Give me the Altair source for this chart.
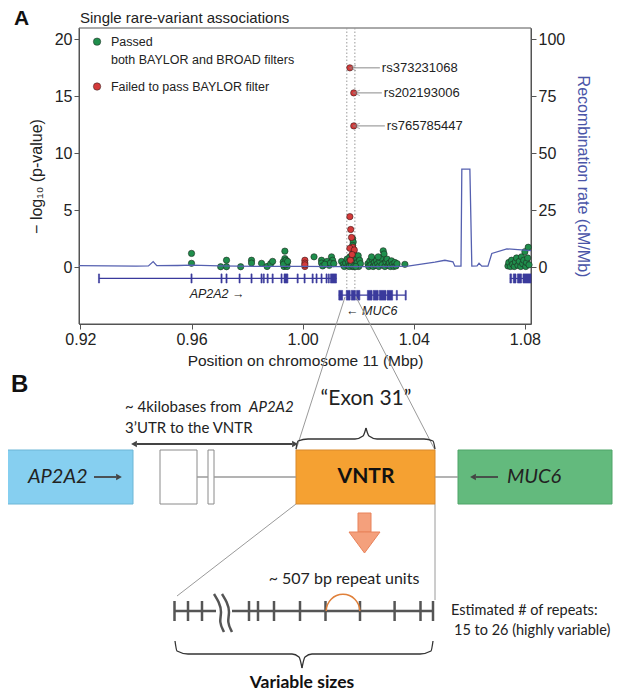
import altair as alt
import pandas as pd

# ---------------- Panel A data ----------------
x_ticks = [0.92, 0.96, 1.00, 1.04, 1.08]
y_ticks = [0, 5, 10, 15, 20]
rec_ticks = [0, 25, 50, 75, 100]

green_pos = [0.9600, 0.9600, 0.9705, 0.9726, 0.9726, 0.9777, 0.9816, 0.9816, 0.9852, 0.9872, 0.9885, 0.9892,
             0.9936, 0.9936, 0.9930, 0.9944, 0.9933, 0.9944, 0.9938, 0.9940, 0.9931, 0.9946,
             1.0041, 1.0068, 1.0068, 1.0072, 1.0088, 1.0104, 1.0108, 1.0096, 1.0080, 1.0100, 1.0112,
             1.0140, 1.0146, 1.0150, 1.0155, 1.0160, 1.0163, 1.0166, 1.0170, 1.0172, 1.0175, 1.0178, 1.0180,
             1.0182, 1.0180, 1.0183, 1.0179, 1.0185, 1.0186, 1.0188, 1.0190, 1.0192, 1.0195, 1.0197, 1.0200,
             1.0202, 1.0205, 1.0208, 1.0168, 1.0176, 1.0184, 1.0191,
             1.0235, 1.0238, 1.0242, 1.0246, 1.0250, 1.0254, 1.0258, 1.0262, 1.0266, 1.0270, 1.0274, 1.0278,
             1.0282, 1.0286, 1.0290, 1.0293, 1.0296, 1.0300, 1.0304, 1.0308, 1.0312, 1.0316, 1.0320, 1.0324,
             1.0328, 1.0332, 1.0336, 1.0340, 1.0248, 1.0272,
             1.0368,
             1.0739, 1.0742, 1.0748, 1.0752, 1.0756, 1.0762, 1.0766, 1.0770, 1.0775, 1.0780, 1.0785, 1.0788,
             1.0792, 1.0796, 1.0800, 1.0803, 1.0806, 1.0810, 1.0812, 1.0815]
green_p = [1.2, 0.33, 0.03, 0.6, 0.03, 0.03, 0.6, 0.35, 0.33, 0.05, 0.3, 0.5,
           1.4, 0.75, 0.45, 0.35, 0.05, 0.05, 0.2, 0.6, 0.25, 0.5,
           0.9, 0.6, 0.35, 0.1, 0.5, 0.9, 0.6, 0.15, 0.25, 0.35, 0.3,
           0.5, 0.2, 0.05, 0.35, 0.7, 0.1, 0.45, 0.9, 0.25, 0.6, 1.05, 2.5,
           2.2, 1.9, 1.35, 0.05, 0.8, 0.3, 1.0, 0.55, 0.15, 0.75, 0.4, 1.0,
           0.05, 0.6, 0.3, 0.05, 0.15, 0.05, 0.05,
           0.3, 0.05, 0.55, 0.2, 0.7, 0.05, 0.4, 0.15, 0.6, 0.3, 0.05, 0.5,
           0.8, 0.2, 1.43, 1.15, 0.05, 0.45, 0.7, 0.15, 0.35, 0.05, 0.55, 0.25,
           0.05, 0.4, 0.1, 0.3, 0.9, 0.9,
           0.24,
           0.1, 0.4, 0.05, 0.6, 0.25, 0.05, 0.45, 0.8, 0.15, 0.5, 0.05, 0.9,
           0.3, 0.6, 1.35, 0.05, 0.4, 0.8, 1.74, 0.2]

red_pos = [1.0008, 1.0008, 1.0008, 1.0008, 1.0170, 1.0173, 1.0176, 1.0180, 1.0170, 1.0186, 1.0172, 1.0178,
           1.0170, 1.0184, 1.0184]
red_p = [0.6, 0.35, 0.05, 0.2, 4.43, 3.3, 2.6, 1.74, 1.65, 1.5, 0.6, 1.1,
         17.5, 15.3, 12.4]

snp_ids = ["rs373231068", "rs202193006", "rs765785447"]
snp_p = [17.5, 15.3, 12.4]
snp_tip = [1.0180, 1.0194, 1.0194]
snp_label = [1.0278, 1.0285, 1.0296]

rec_pos = [0.9195, 0.930, 0.940, 0.9445, 0.9462, 0.9475, 0.955, 0.960, 0.970, 0.985, 1.000, 1.015,
           1.030, 1.0379, 1.0476, 1.0512, 1.0541, 1.0548, 1.0570, 1.0573, 1.0602, 1.0609, 1.0628,
           1.0635, 1.0645, 1.0667, 1.0681, 1.0735, 1.0811, 1.0822]
rec_rate = [0.6, 0.5, 0.4, 0.5, 2.4, 0.6, 0.7, 0.9, 0.5, 0.3, 0.3, 0.2,
            0.2, 0.4, 2.2, 3.0, 2.3, 0.4, 0.4, 43.0, 43.0, 0.4, 0.5,
            1.7, 0.4, 0.4, 6.0, 8.0, 7.3, 7.2]

ap2a2_start = [0.9265, 0.9598, 0.9706, 0.9724, 0.9771, 0.9814, 0.9850, 0.9858, 0.9872, 0.9890, 0.9922,
               0.9933, 0.9980, 1.0005, 1.0034, 1.0048, 1.0066, 1.0084, 1.0092, 1.0100]
ap2a2_end = [0.9269, 0.9602, 0.9710, 0.9728, 0.9775, 0.9818, 0.9854, 0.9862, 0.9876, 0.9894, 0.9926,
             0.9947, 0.9984, 1.0009, 1.0038, 1.0052, 1.0070, 1.0088, 1.0096, 1.0122]
right_gene_start = [1.0746, 1.0758, 1.0773, 1.0793]
right_gene_end = [1.0752, 1.0768, 1.0788, 1.0822]
muc6_start = [1.0130, 1.0157, 1.0175, 1.0194, 1.0233, 1.0254, 1.0276, 1.0304, 1.0337, 1.0369]
muc6_end = [1.0144, 1.0171, 1.0190, 1.0206, 1.0250, 1.0272, 1.0300, 1.0324, 1.0341, 1.0373]
gene_lines = {"start": [0.9267, 1.0746, 1.0130], "end": [1.0122, 1.0822, 1.0371], "track": [-1.0, -1.0, -2.47]}
dotted_x = [1.0159, 1.0188]

FA = "Liberation Sans"
FB = "Lato"
W, H = 610, 683

XA = alt.Scale(domain=[0.9195, 1.0822], range=[71, 523], nice=False, zero=False)
YA = alt.Scale(domain=[-5, 21], range=[316, 20], nice=False, zero=False)
YR = alt.Scale(domain=[-25, 105], range=[316, 20], nice=False, zero=False)

AX = alt.Axis(orient="bottom", offset=-(H - 316), values=x_ticks, format=".2f",
              title="Position on chromosome 11 (Mbp)", labelFont=FA, labelFontSize=16, titleFont=FA,
              titleFontSize=15.5, titleFontWeight="normal", tickSize=5, domainColor="#555", tickColor="#555",
              labelColor="#222", titleColor="#222", grid=False, labelPadding=2, titlePadding=6)
AY = alt.Axis(orient="left", offset=-71, values=y_ticks, title="− log₁₀ (p-value)", labelFont=FA,
              labelFontSize=16, titleFont=FA, titleFontSize=16, titleFontWeight="normal", tickSize=5,
              domainColor="#555", tickColor="#555", labelColor="#222", titleColor="#222", grid=False,
              labelPadding=2, titlePadding=10)
AR = alt.Axis(orient="right", offset=-(W - 523), values=rec_ticks, title="Recombination rate (cM/Mb)",
              labelFont=FA, labelFontSize=16, titleFont=FA, titleFontSize=16, titleFontWeight="normal",
              tickSize=5, domainColor="#555", tickColor="#555", labelColor="#222", titleColor="#4A55A8",
              grid=False, labelPadding=2, titlePadding=10)


def xa(f):
    return alt.X(f, type="quantitative", scale=XA, axis=AX)


def ya(f):
    return alt.Y(f, type="quantitative", scale=YA, axis=AY)


def yda(v):
    return alt.Y(datum=v, type="quantitative", scale=YA, axis=AY)


GREEN = "#1F8E4C"
RED = "#D43A3A"
TRACK = "#3A3A9C"

frame = alt.Chart(pd.DataFrame({"a": [0.9195], "b": [1.0822]})).mark_rect(
    fillOpacity=0, stroke="#555", strokeWidth=1).encode(x=xa("a"), x2="b", y=yda(-5), y2=alt.datum(21))

dotted = alt.Chart(pd.DataFrame({"pos": dotted_x})).mark_rule(
    color="#9a9a9a", strokeDash=[1.5, 2], strokeWidth=1).encode(x=xa("pos"), y=yda(21), y2=alt.datum(-2.6))

gl = pd.DataFrame(gene_lines)
glines = alt.Chart(gl).mark_rule(color=TRACK, strokeWidth=1.2).encode(x=xa("start"), x2="end", y=ya("track"))

ap_ex = alt.Chart(pd.DataFrame({"s": ap2a2_start, "e": ap2a2_end})).mark_rect(
    color=TRACK, stroke=TRACK, strokeWidth=0.6).encode(x=xa("s"), x2="e", y=yda(-0.6), y2=alt.datum(-1.4))
rg_ex = alt.Chart(pd.DataFrame({"s": right_gene_start, "e": right_gene_end})).mark_rect(
    color=TRACK, stroke=TRACK, strokeWidth=0.6).encode(x=xa("s"), x2="e", y=yda(-0.6), y2=alt.datum(-1.4))
mu_ex = alt.Chart(pd.DataFrame({"s": muc6_start, "e": muc6_end})).mark_rect(
    color=TRACK, stroke=TRACK, strokeWidth=0.6).encode(x=xa("s"), x2="e", y=yda(-2.05), y2=alt.datum(-2.9))

gene_txt = alt.Chart(pd.DataFrame({"pos": [0.9692, 1.0249], "v": [-2.4, -3.85],
                                   "t": ["AP2A2 →", "← MUC6"]})).mark_text(
    font=FA, fontSize=12.5, fontStyle="italic", color="#222").encode(x=xa("pos"), y=ya("v"), text="t:N")

rec_line = alt.Chart(pd.DataFrame({"pos": rec_pos, "rate": rec_rate})).mark_line(
    color="#5560B0", strokeWidth=1.3).encode(x=xa("pos"), y=alt.Y("rate", type="quantitative", scale=YR, axis=AR))

gpts = alt.Chart(pd.DataFrame({"pos": green_pos, "p": green_p})).mark_circle(
    color=GREEN, stroke="#1c2a20", strokeWidth=0.6, size=40, opacity=1).encode(x=xa("pos"), y=ya("p"))
rpts = alt.Chart(pd.DataFrame({"pos": red_pos, "p": red_p})).mark_circle(
    color=RED, stroke="#3a1a1a", strokeWidth=0.6, size=40, opacity=1).encode(x=xa("pos"), y=ya("p"))

snp = pd.DataFrame({"id": snp_ids, "p": snp_p, "tip": snp_tip, "lab": snp_label})
snp_rule = alt.Chart(snp).mark_rule(color="#8a8a8a", strokeWidth=1).encode(x=xa("tip"), x2="lab", y=ya("p"))
snp_head = alt.Chart(snp).mark_point(shape="M1,-0.8L-1,0L1,0.8", filled=False, color="#8a8a8a",
                                     size=45, strokeWidth=1).encode(x=xa("tip"), y=ya("p"))
snp_txt = alt.Chart(snp).mark_text(font=FA, fontSize=13, align="left", dx=2, color="#222").encode(
    x=xa("lab"), y=ya("p"), text="id:N")

leg = pd.DataFrame({"pos": [0.9260, 0.9260], "p": [19.8, 15.86], "c": ["g", "r"]})
leg_pts = alt.Chart(leg).mark_circle(size=55, opacity=1, stroke="#222", strokeWidth=0.5).encode(
    x=xa("pos"), y=ya("p"), color=alt.Color("c:N", scale=alt.Scale(domain=["g", "r"], range=[GREEN, RED]), legend=None))
leg_txt = alt.Chart(pd.DataFrame({"pos": [0.9310, 0.9310, 0.9310], "p": [19.8, 18.15, 15.86],
                                  "t": ["Passed", "both BAYLOR and BROAD filters", "Failed to pass BAYLOR filter"]})).mark_text(
    font=FA, fontSize=12.5, align="left", color="#222").encode(x=xa("pos"), y=ya("p"), text="t:N")

panelA_main = alt.layer(frame, dotted, glines, ap_ex, rg_ex, mu_ex, gene_txt, gpts, rpts,
                        snp_rule, snp_head, snp_txt, leg_pts, leg_txt)
panelA = alt.layer(panelA_main, rec_line).resolve_scale(y="independent")

# ---------------- Panel B (schematic, page coordinates) ----------------
XB = alt.Scale(domain=[8, 8 + W], range=[0, W], nice=False, zero=False)
YB = alt.Scale(domain=[8, 8 + H], range=[0, H], nice=False, zero=False)


def bx(f):
    return alt.X(f, type="quantitative", scale=XB, axis=None)


def by(f):
    return alt.Y(f, type="quantitative", scale=YB, axis=None)


BOX_TOP, BOX_BOT = 450, 504
box_names = ["AP2A2", "w1", "w2", "VNTR", "MUC6"]
box_x0 = [0, 160, 208, 296, 458]
box_x1 = [133, 197, 214, 435, 612]
box_fill = {"AP2A2": "#86CFF0", "w1": "#FFFFFF", "w2": "#FFFFFF", "VNTR": "#F5A132", "MUC6": "#63BA7D"}
box_stroke = {"AP2A2": "#6CB6D6", "w1": "#8A8A8A", "w2": "#8A8A8A", "VNTR": "#D9892A", "MUC6": "#4FA468"}
boxes = pd.DataFrame({"n": box_names, "x0": box_x0, "x1": box_x1, "y0": BOX_TOP, "y1": BOX_BOT})
boxes_l = alt.Chart(boxes).mark_rect(strokeWidth=1).encode(
    x=bx("x0"), x2="x1", y=by("y0"), y2="y1",
    fill=alt.Fill("n:N", scale=alt.Scale(domain=box_names, range=[box_fill[n] for n in box_names]), legend=None),
    stroke=alt.Stroke("n:N", scale=alt.Scale(domain=box_names, range=[box_stroke[n] for n in box_names]), legend=None))

MID = (BOX_TOP + BOX_BOT) / 2
intron = alt.Chart(pd.DataFrame({"a": [197, 214, 435], "b": [208, 296, 458], "y": [MID] * 3})).mark_rule(
    color="#9a9a9a", strokeWidth=1.5).encode(x=bx("a"), x2="b", y=by("y"))

conn = alt.Chart(pd.DataFrame({"a": [345, 356, 296, 435], "ya": [297, 297, BOX_BOT, BOX_BOT],
                               "b": [296, 435, 177, 435], "yb": [BOX_TOP, BOX_TOP, 596, 600]})).mark_rule(
    color="#9a9a9a", strokeWidth=1).encode(x=bx("a"), y=by("ya"), x2="b", y2="yb")

# arrows inside boxes and double arrow
arr = pd.DataFrame({"a": [94, 476, 137], "b": [116, 498, 292], "y": [MID, MID, 444]})
arr_l = alt.Chart(arr).mark_rule(color="#444", strokeWidth=1.8).encode(x=bx("a"), x2="b", y=by("y"))
heads = pd.DataFrame({"x": [119, 473, 134, 295], "y": [MID, MID, 444, 444],
                      "s": ["r", "l", "l", "r"]})
head_r = alt.Chart(heads[heads.s == "r"]).mark_point(shape="triangle-right", filled=True, color="#444",
                                                    size=45, opacity=1).encode(x=bx("x"), y=by("y"))
head_l = alt.Chart(heads[heads.s == "l"]).mark_point(shape="triangle-left", filled=True, color="#444",
                                                    size=45, opacity=1).encode(x=bx("x"), y=by("y"))

# braces
brace_x = [296, 298, 308, 355, 363, 366, 366, 369, 377, 424, 433, 435,
           175, 177, 188, 292, 299, 302, 302, 305, 312, 420, 431, 433]
brace_y = [449, 441, 439, 439, 436, 428, 428, 436, 439, 439, 441, 449,
           641, 651, 654, 654, 657, 668, 668, 657, 654, 654, 651, 641]
brace_part = ["tl"] * 6 + ["tr"] * 6 + ["bl"] * 6 + ["br"] * 6
braces = alt.Chart(pd.DataFrame({"x": brace_x, "y": brace_y, "part": brace_part})).mark_line(
    color="#333", strokeWidth=1.3, interpolate="monotone").encode(x=bx("x"), y=by("y"), detail="part:N")

# orange arrow
shaft = alt.Chart(pd.DataFrame({"a": [358], "b": [371], "y0": [513], "y1": [532]})).mark_rect(
    fill="#F4A07C", stroke="#E8825A", strokeWidth=1).encode(x=bx("a"), x2="b", y=by("y0"), y2="y1")
head = alt.Chart(pd.DataFrame({"x": [349, 364.5, 380], "y": [532, 553, 532], "y2": [532, 532, 532]})).mark_area(
    fill="#F4A07C", stroke="#E8825A", strokeWidth=1, orient="vertical").encode(x=bx("x"), y=by("y"), y2="y2")

# repeat line
rep = alt.Chart(pd.DataFrame({"a": [174, 232], "b": [216, 434], "y": [611, 611]})).mark_rule(
    color="#555", strokeWidth=2.5).encode(x=bx("a"), x2="b", y=by("y"))
tick_x = [174.5, 188, 202, 249, 258, 274, 300, 325.5, 360, 394.6, 420.5, 433]
ticks = alt.Chart(pd.DataFrame({"x": tick_x})).mark_rule(color="#555", strokeWidth=2.5).encode(
    x=bx("x"), y=alt.Y(datum=601, type="quantitative", scale=YB, axis=None), y2=alt.datum(621))
wave_x = [214, 219, 222, 219, 224, 222, 227, 230, 227, 232]
wave_y = [594, 602, 612, 622, 632, 594, 602, 612, 622, 632]
wave_id = ["a"] * 5 + ["b"] * 5
waves = alt.Chart(pd.DataFrame({"x": wave_x, "y": wave_y, "id": wave_id, "o": list(range(10))})).mark_line(
    color="#555", strokeWidth=2.5, interpolate="basis").encode(x=bx("x"), y=by("y"), detail="id:N", order="o:Q")
arc = alt.Chart(pd.DataFrame({"x": [343], "y": [611]})).mark_arc(
    radius=17.5, radius2=16, theta=4.712, theta2=7.854, color="#E0803A").encode(x=bx("x"), y=by("y"))

# texts
t_a = alt.Chart(pd.DataFrame({"x": [14], "y": [19], "t": ["A"]})).mark_text(
    font=FA, fontSize=21, fontWeight="bold", align="left", baseline="middle", color="#111").encode(
    x=bx("x"), y=by("y"), text="t:N")
t_b = alt.Chart(pd.DataFrame({"x": [11], "y": [385], "t": ["B"]})).mark_text(
    font=FA, fontSize=24, fontWeight="bold", align="left", color="#111").encode(x=bx("x"), y=by("y"), text="t:N")
t_title = alt.Chart(pd.DataFrame({"x": [80], "y": [18], "t": ["Single rare-variant associations"]})).mark_text(
    font=FA, fontSize=15, align="left", color="#222").encode(x=bx("x"), y=by("y"), text="t:N")
t_norm = alt.Chart(pd.DataFrame({"x": [125, 125], "y": [407, 428],
                                 "t": ["~ 4kilobases from", "3’UTR to the VNTR"]})).mark_text(
    font=FB, fontSize=15, align="left", color="#222").encode(x=bx("x"), y=by("y"), text="t:N")
t_rep = alt.Chart(pd.DataFrame({"x": [451, 454], "y": [611, 631],
                                "t": ["Estimated # of repeats:", "15 to 26 (highly variable)"]})).mark_text(
    font=FB, fontSize=14.5, align="left", color="#222").encode(x=bx("x"), y=by("y"), text="t:N")
t_center = alt.Chart(pd.DataFrame({"x": [344], "y": [579], "t": ["~ 507 bp repeat units"]})).mark_text(
    font=FB, fontSize=16, align="center", color="#222").encode(x=bx("x"), y=by("y"), text="t:N")
t_exon = alt.Chart(pd.DataFrame({"x": [366], "y": [399], "t": ["“Exon 31”"]})).mark_text(
    font=FB, fontSize=21, align="center", color="#222").encode(x=bx("x"), y=by("y"), text="t:N")
t_ital_small = alt.Chart(pd.DataFrame({"x": [249], "y": [407], "t": ["AP2A2"]})).mark_text(
    font=FB, fontSize=15, fontStyle="italic", align="left", color="#222").encode(x=bx("x"), y=by("y"), text="t:N")
t_ital_box = alt.Chart(pd.DataFrame({"x": [28, 507], "y": [MID, MID], "t": ["AP2A2", "MUC6"]})).mark_text(
    font=FB, fontSize=20, fontStyle="italic", align="left", color="#222").encode(x=bx("x"), y=by("y"), text="t:N")
t_bold = alt.Chart(pd.DataFrame({"x": [366, 302], "y": [MID, 683], "t": ["VNTR", "Variable sizes"],
                                 "s": [21, 17.5]})).mark_text(
    font=FB, fontWeight="bold", align="center", color="#111").encode(
    x=bx("x"), y=by("y"), text="t:N", size=alt.Size("s:Q", scale=None))

panelB = alt.layer(conn, boxes_l, intron, arr_l, head_r, head_l, braces, shaft, head, rep, ticks, waves, arc,
                   t_a, t_b, t_title, t_norm, t_rep, t_center, t_exon, t_ital_small, t_ital_box, t_bold)

chart = alt.layer(panelA, panelB).resolve_scale(x="independent", y="independent").properties(
    width=W, height=H, padding=0, autosize=alt.AutoSizeParams(type="none")
).configure_view(stroke=None)

chart.save("out.html", embed_options={"renderer": "svg", "actions": False})
